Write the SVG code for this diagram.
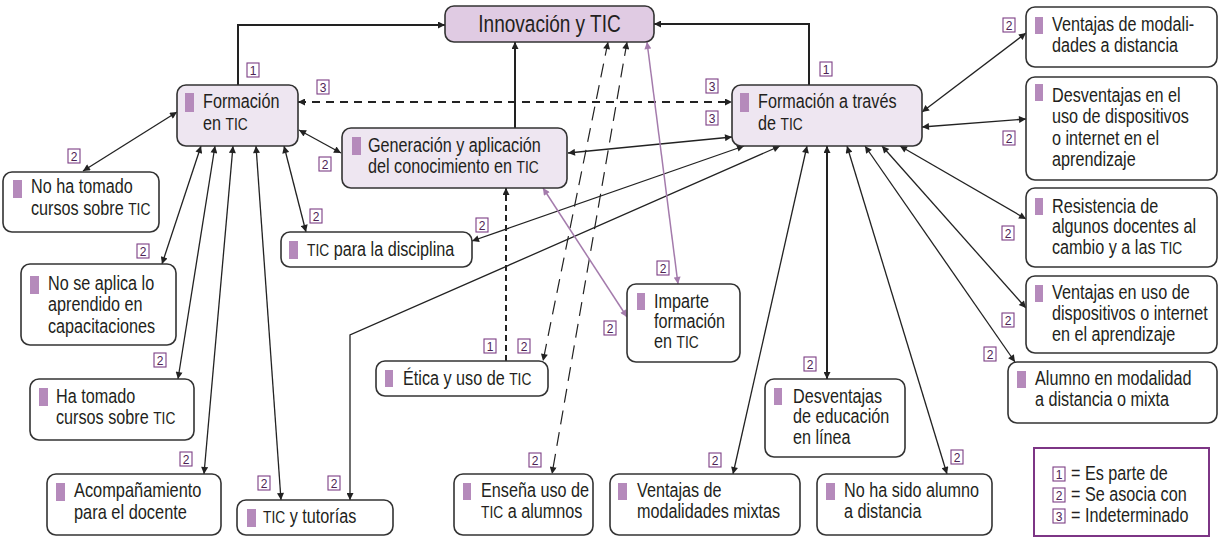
<svg xmlns="http://www.w3.org/2000/svg" width="1220" height="546" viewBox="0 0 1220 546">
<style>
.n{fill:#fff;stroke:#333;stroke-width:1.6}
.m{fill:#eee6f1}
.top{fill:#e0cbe3}
.bar{fill:#b58abb}
.t{font-family:"Liberation Sans",Arial,sans-serif;font-size:20px;fill:#231f20}
.s{font-size:17px}
.c{fill:none;stroke:#222;stroke-width:1.3}
.k{stroke-width:2}
.d{stroke-dasharray:8 6}
.dl{stroke-dasharray:14 8;stroke-width:1.2}
.p{stroke:#a47bac;stroke-width:1.5}
.b rect{fill:#fff;stroke:#7d3f85;stroke-width:1.1}
.b text{font-family:"Liberation Sans",Arial,sans-serif;font-size:12px;fill:#4d2354;text-anchor:middle}
</style>
<defs>
<marker id="a" viewBox="0 0 10 10" refX="10" refY="5" markerWidth="9" markerHeight="7" markerUnits="userSpaceOnUse" orient="auto-start-reverse"><path d="M0,0 L10,5 L0,10 z" fill="#222"/></marker>
<marker id="ap" viewBox="0 0 10 10" refX="10" refY="5" markerWidth="9" markerHeight="7" markerUnits="userSpaceOnUse" orient="auto-start-reverse"><path d="M0,0 L10,5 L0,10 z" fill="#a47bac"/></marker>
</defs>
<rect width="1220" height="546" fill="#fff"/>

<g id="connectors">
<path class="c k" d="M238,85 V25 H445" marker-end="url(#a)"/>
<path class="c k" d="M809,85 V24 H654" marker-end="url(#a)"/>
<path class="c k" d="M515,128 V42" marker-end="url(#a)"/>
<path class="c k d" d="M298,102 H732" marker-start="url(#a)" marker-end="url(#a)"/>
<path class="c" d="M299,130 L341,153" marker-start="url(#a)" marker-end="url(#a)"/>
<path class="c" d="M177,112 L83,171" marker-start="url(#a)" marker-end="url(#a)"/>
<path class="c" d="M201,146 L162,264" marker-start="url(#a)" marker-end="url(#a)"/>
<path class="c" d="M215,146 L178,379" marker-start="url(#a)" marker-end="url(#a)"/>
<path class="c" d="M233,146 L204,474" marker-start="url(#a)" marker-end="url(#a)"/>
<path class="c" d="M256,146 L281,500" marker-start="url(#a)" marker-end="url(#a)"/>
<path class="c" d="M284,146 L306,232" marker-start="url(#a)" marker-end="url(#a)"/>
<path class="c" d="M744,146 L472,241" marker-start="url(#a)" marker-end="url(#a)"/>
<path class="c" d="M780,146 L350,335 L350,500" marker-start="url(#a)" marker-end="url(#a)"/>
<path class="c" d="M732,137 L568,153" marker-start="url(#a)" marker-end="url(#a)"/>
<path class="c" d="M922,112 L1026,33" marker-start="url(#a)" marker-end="url(#a)"/>
<path class="c" d="M922,127 L1026,119" marker-start="url(#a)" marker-end="url(#a)"/>
<path class="c" d="M807,146 L733,474" marker-start="url(#a)" marker-end="url(#a)"/>
<path class="c k" d="M827,146 V379" marker-start="url(#a)" marker-end="url(#a)"/>
<path class="c" d="M847,146 L947,474" marker-start="url(#a)" marker-end="url(#a)"/>
<path class="c" d="M865,146 L1015,362" marker-start="url(#a)" marker-end="url(#a)"/>
<path class="c" d="M882,146 L1026,308" marker-start="url(#a)" marker-end="url(#a)"/>
<path class="c" d="M900,146 L1026,219" marker-start="url(#a)" marker-end="url(#a)"/>
<path class="c dl" d="M608,42 L543,361" marker-start="url(#a)" marker-end="url(#a)"/>
<path class="c dl" d="M627,42 L552,474" marker-start="url(#a)" marker-end="url(#a)"/>
<path class="c k" style="stroke-dasharray:6 4" d="M506,361 V188" marker-end="url(#a)"/>
<path class="c p" d="M647,42 L678,284" marker-start="url(#ap)" marker-end="url(#ap)"/>
<path class="c p" d="M543,188 L627,317" marker-start="url(#ap)" marker-end="url(#ap)"/>
</g>

<g id="badges" class="b">
<g><rect x="247" y="63" width="12" height="14"/><text x="253" y="74.5">1</text></g>
<g><rect x="317" y="80" width="12" height="14"/><text x="323" y="91.5">3</text></g>
<g><rect x="68" y="149" width="12" height="14"/><text x="74" y="160.5">2</text></g>
<g><rect x="319" y="157" width="12" height="14"/><text x="325" y="168.5">2</text></g>
<g><rect x="706" y="79" width="12" height="14"/><text x="712" y="90.5">3</text></g>
<g><rect x="706" y="111" width="12" height="14"/><text x="712" y="122.5">3</text></g>
<g><rect x="1003" y="18" width="12" height="14"/><text x="1009" y="29.5">2</text></g>
<g><rect x="820" y="62" width="12" height="14"/><text x="826" y="73.5">1</text></g>
<g><rect x="1003" y="131" width="12" height="14"/><text x="1009" y="142.5">2</text></g>
<g><rect x="137" y="244" width="12" height="14"/><text x="143" y="255.5">2</text></g>
<g><rect x="310" y="209" width="12" height="14"/><text x="316" y="220.5">2</text></g>
<g><rect x="476" y="218" width="12" height="14"/><text x="482" y="229.5">2</text></g>
<g><rect x="657" y="261" width="12" height="14"/><text x="663" y="272.5">2</text></g>
<g><rect x="604" y="321" width="12" height="14"/><text x="610" y="332.5">2</text></g>
<g><rect x="484" y="339" width="12" height="14"/><text x="490" y="350.5">1</text></g>
<g><rect x="518" y="339" width="12" height="14"/><text x="524" y="350.5">2</text></g>
<g><rect x="804" y="357" width="12" height="14"/><text x="810" y="368.5">2</text></g>
<g><rect x="1002" y="226" width="12" height="14"/><text x="1008" y="237.5">2</text></g>
<g><rect x="1002" y="313" width="12" height="14"/><text x="1008" y="324.5">2</text></g>
<g><rect x="984" y="347" width="12" height="14"/><text x="990" y="358.5">2</text></g>
<g><rect x="154" y="353" width="12" height="14"/><text x="160" y="364.5">2</text></g>
<g><rect x="180" y="452" width="12" height="14"/><text x="186" y="463.5">2</text></g>
<g><rect x="258" y="476" width="12" height="14"/><text x="264" y="487.5">2</text></g>
<g><rect x="328" y="476" width="12" height="14"/><text x="334" y="487.5">2</text></g>
<g><rect x="529" y="453" width="12" height="14"/><text x="535" y="464.5">2</text></g>
<g><rect x="709" y="453" width="12" height="14"/><text x="715" y="464.5">2</text></g>
<g><rect x="951" y="450" width="12" height="14"/><text x="957" y="461.5">2</text></g>
</g>

<g id="n-innovacion"><rect class="n top" x="445" y="6" width="209" height="36" rx="9"/><text class="t" style="font-size:23.5px;text-anchor:middle" transform="translate(549.5,32) scale(0.81,1)">Innovación y TIC</text></g>

<g id="n-formacion-tic"><rect class="n m" x="177" y="85" width="121" height="61" rx="9"/><rect class="bar" x="185" y="93" width="9" height="19"/><text class="t" transform="translate(203,108) scale(0.81,1)"><tspan x="0" y="0">Formación</tspan><tspan x="0" y="22">en <tspan class="s">TIC</tspan></tspan></text></g>

<g id="n-generacion"><rect class="n m" x="342" y="128" width="225" height="60" rx="9"/><rect class="bar" x="352" y="137" width="9" height="18"/><text class="t" transform="translate(368,152) scale(0.81,1)"><tspan x="0" y="0">Generación y aplicación</tspan><tspan x="0" y="21">del conocimiento en <tspan class="s">TIC</tspan></tspan></text></g>

<g id="n-formacion-traves"><rect class="n m" x="732" y="85" width="190" height="61" rx="9"/><rect class="bar" x="740" y="93" width="9" height="19"/><text class="t" transform="translate(758,108) scale(0.81,1)"><tspan x="0" y="0">Formación a través</tspan><tspan x="0" y="22">de <tspan class="s">TIC</tspan></tspan></text></g>

<g id="n-no-ha-tomado"><rect class="n" x="3" y="172" width="156" height="60" rx="9"/><rect class="bar" x="13" y="180" width="9" height="18"/><text class="t" transform="translate(31,193) scale(0.81,1)"><tspan x="0" y="0">No ha tomado</tspan><tspan x="0" y="22">cursos sobre <tspan class="s">TIC</tspan></tspan></text></g>

<g id="n-no-se-aplica"><rect class="n" x="21" y="264" width="155" height="81" rx="9"/><rect class="bar" x="30" y="276" width="9" height="18"/><text class="t" transform="translate(48,290) scale(0.81,1)"><tspan x="0" y="0">No se aplica lo</tspan><tspan x="0" y="21.5">aprendido en</tspan><tspan x="0" y="43">capacitaciones</tspan></text></g>

<g id="n-ha-tomado"><rect class="n" x="30" y="379" width="164" height="61" rx="9"/><rect class="bar" x="39" y="388" width="9" height="18"/><text class="t" transform="translate(56,403) scale(0.81,1)"><tspan x="0" y="0">Ha tomado</tspan><tspan x="0" y="21">cursos sobre <tspan class="s">TIC</tspan></tspan></text></g>

<g id="n-acompanamiento"><rect class="n" x="47" y="474" width="174" height="61" rx="9"/><rect class="bar" x="56" y="483" width="9" height="18"/><text class="t" transform="translate(74,497) scale(0.82,1)"><tspan x="0" y="0">Acompañamiento</tspan><tspan x="0" y="22">para el docente</tspan></text></g>

<g id="n-tic-tutorias"><rect class="n" x="237" y="500" width="156" height="35" rx="9"/><rect class="bar" x="247" y="509" width="9" height="18"/><text class="t" transform="translate(263,523) scale(0.81,1)"><tspan class="s">TIC</tspan> y tutorías</text></g>

<g id="n-tic-disciplina"><rect class="n" x="281" y="232" width="191" height="35" rx="9"/><rect class="bar" x="289" y="241" width="9" height="18"/><text class="t" transform="translate(307,256) scale(0.81,1)"><tspan class="s">TIC</tspan> para la disciplina</text></g>

<g id="n-etica"><rect class="n" x="376" y="361" width="172" height="35" rx="9"/><rect class="bar" x="385" y="370" width="8" height="17"/><text class="t" transform="translate(403,385) scale(0.81,1)">Ética y uso de <tspan class="s">TIC</tspan></text></g>

<g id="n-imparte"><rect class="n" x="627" y="284" width="113" height="78" rx="9"/><rect class="bar" x="637" y="293" width="8" height="17"/><text class="t" transform="translate(654,308) scale(0.81,1)"><tspan x="0" y="0">Imparte</tspan><tspan x="0" y="20">formación</tspan><tspan x="0" y="40">en <tspan class="s">TIC</tspan></tspan></text></g>

<g id="n-ensena"><rect class="n" x="454" y="474" width="139" height="61" rx="9"/><rect class="bar" x="463" y="483" width="8" height="17"/><text class="t" transform="translate(481,497) scale(0.81,1)"><tspan x="0" y="0">Enseña uso de</tspan><tspan x="0" y="21"><tspan class="s">TIC</tspan> a alumnos</tspan></text></g>

<g id="n-ventajas-mixtas"><rect class="n" x="610" y="474" width="190" height="61" rx="9"/><rect class="bar" x="618" y="483" width="9" height="17"/><text class="t" transform="translate(637,497) scale(0.81,1)"><tspan x="0" y="0">Ventajas de</tspan><tspan x="0" y="21">modalidades mixtas</tspan></text></g>

<g id="n-desventajas-linea"><rect class="n" x="765" y="379" width="140" height="78" rx="9"/><rect class="bar" x="774" y="388" width="8" height="17"/><text class="t" transform="translate(793,403) scale(0.81,1)"><tspan x="0" y="0">Desventajas</tspan><tspan x="0" y="20.5">de educación</tspan><tspan x="0" y="41">en línea</tspan></text></g>

<g id="n-no-ha-sido"><rect class="n" x="817" y="474" width="175" height="61" rx="9"/><rect class="bar" x="826" y="483" width="9" height="17"/><text class="t" transform="translate(844,497) scale(0.81,1)"><tspan x="0" y="0">No ha sido alumno</tspan><tspan x="0" y="21">a distancia</tspan></text></g>

<g id="n-ventajas-distancia"><rect class="n" x="1026" y="7" width="191" height="60" rx="9"/><rect class="bar" x="1035" y="17" width="8" height="17"/><text class="t" transform="translate(1052,31) scale(0.81,1)"><tspan x="0" y="0">Ventajas de modali-</tspan><tspan x="0" y="21">dades a distancia</tspan></text></g>

<g id="n-desventajas-uso"><rect class="n" x="1026" y="77" width="191" height="103" rx="9"/><rect class="bar" x="1035" y="84" width="8" height="17"/><text class="t" transform="translate(1052,102) scale(0.81,1)"><tspan x="0" y="0">Desventajas en el</tspan><tspan x="0" y="21.3">uso de dispositivos</tspan><tspan x="0" y="42.6">o internet en el</tspan><tspan x="0" y="64">aprendizaje</tspan></text></g>

<g id="n-resistencia"><rect class="n" x="1026" y="188" width="191" height="79" rx="9"/><rect class="bar" x="1035" y="198" width="8" height="17"/><text class="t" transform="translate(1052,213) scale(0.81,1)"><tspan x="0" y="0">Resistencia de</tspan><tspan x="0" y="20.5">algunos docentes al</tspan><tspan x="0" y="41">cambio y a las <tspan class="s">TIC</tspan></tspan></text></g>

<g id="n-ventajas-uso"><rect class="n" x="1026" y="276" width="191" height="77" rx="9"/><rect class="bar" x="1035" y="285" width="8" height="17"/><text class="t" transform="translate(1052,299) scale(0.81,1)"><tspan x="0" y="0">Ventajas en uso de</tspan><tspan x="0" y="21">dispositivos o internet</tspan><tspan x="0" y="42">en el aprendizaje</tspan></text></g>

<g id="n-alumno-modalidad"><rect class="n" x="1008" y="362" width="209" height="61" rx="9"/><rect class="bar" x="1017" y="371" width="9" height="17"/><text class="t" transform="translate(1035,385) scale(0.81,1)"><tspan x="0" y="0">Alumno en modalidad</tspan><tspan x="0" y="21.5">a distancia o mixta</tspan></text></g>

<g id="legend">
<rect x="1034" y="448" width="175" height="88" fill="#fff" stroke="#7d3585" stroke-width="2"/>
<g class="b">
<g><rect x="1053" y="467" width="12" height="14"/><text x="1059" y="478.5">1</text></g>
<g><rect x="1053" y="488" width="12" height="14"/><text x="1059" y="499.5">2</text></g>
<g><rect x="1053" y="509" width="12" height="14"/><text x="1059" y="520.5">3</text></g>
</g>
<text class="t" transform="translate(1071,480) scale(0.81,1)"><tspan x="0" y="0">= Es parte de</tspan><tspan x="0" y="21">= Se asocia con</tspan><tspan x="0" y="42">= Indeterminado</tspan></text>
</g>
</svg>
